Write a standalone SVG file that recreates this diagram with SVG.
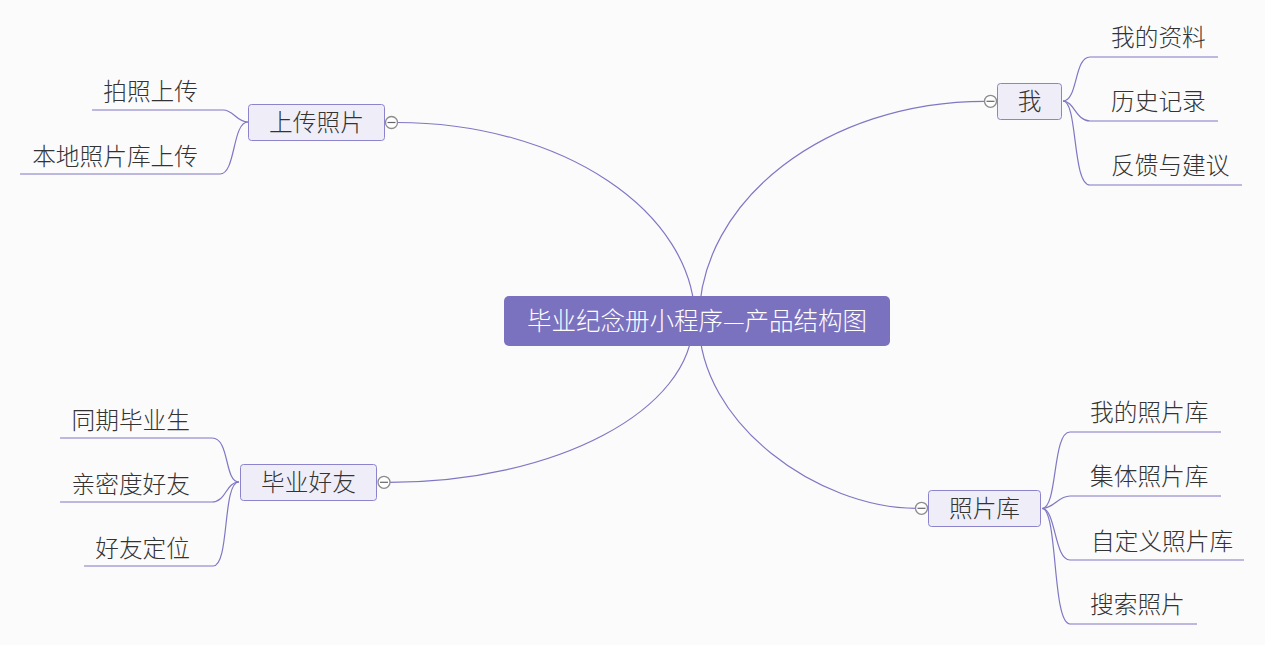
<svg xmlns="http://www.w3.org/2000/svg" width="1265" height="645" viewBox="0 0 1265 645">
<style>
.bg{fill:#fbfbfb}
.c{fill:none;stroke:#7f77c4;stroke-width:1.2}
.n{fill:#efeef8;stroke:#8b84cc;stroke-width:1}
.root{fill:#7b72bf}
.t{font-family:"Noto Sans CJK SC","Noto Sans",sans-serif;font-size:23.7px;font-weight:300;fill:#333333;dominant-baseline:central}
.rt{font-family:"Noto Sans CJK SC","Noto Sans",sans-serif;font-size:24.5px;font-weight:300;fill:#ffffff;dominant-baseline:central;text-anchor:middle}
.m{text-anchor:middle}
.e{text-anchor:end}
.tog{fill:#ffffff;stroke:#8c8c8c;stroke-width:1.3}
.tl{stroke:#666666;stroke-width:1.2}
</style>
<rect class="bg" x="0" y="0" width="1265" height="645"/>
<g id="connectors">
<path class="c" d="M695,321 C695,211 561,122.5 397,122.5"/>
<path class="c" d="M699,321 C699,200 827,101.3 985,101.3"/>
<path class="c" d="M693,321 C693,410 556,482.3 389.5,482.3"/>
<path class="c" d="M699,321 C699,424 819,508.3 916,508.3"/>
<path class="c" d="M248,122 C236,122 234,110 223,110 H92"/>
<path class="c" d="M248,122 C232,122 236,174 220,174 H20"/>
<path class="c" d="M1063,101 C1078,101 1074,57 1090,57 H1218"/>
<path class="c" d="M1063,101 C1074,101 1076,121 1090,121 H1218"/>
<path class="c" d="M1063,101 C1078,101 1072,185 1090,185 H1242"/>
<path class="c" d="M1042,508.5 C1058,508.5 1052,432 1070,432 H1221"/>
<path class="c" d="M1042,508.5 C1054,508.5 1058,496 1070,496 H1221"/>
<path class="c" d="M1042,508.5 C1056,508.5 1054,560 1070,560 H1244"/>
<path class="c" d="M1042,508.5 C1058,508.5 1052,624 1070,624 H1197"/>
<path class="c" d="M239,482 C224,482 230,438 212,438 H60"/>
<path class="c" d="M239,482 C226,482 226,502 212,502 H60"/>
<path class="c" d="M239,482 C222,482 230,566 213,566 H84"/>
</g>
<g id="root">
<rect class="root" x="504" y="296" width="386" height="50" rx="5"/>
<text class="rt" x="697" y="319">毕业纪念册小程序—产品结构图</text>
</g>
<g id="upload">
<rect class="n" x="248.5" y="104.5" width="136" height="36" rx="3"/>
<text class="t m" x="316.5" y="121">上传照片</text>
<circle class="tog" cx="391.5" cy="122.5" r="6"/>
<line class="tl" x1="387.5" y1="122.5" x2="395.5" y2="122.5"/>
</g>
<g id="upload-c1"><text class="t e" x="198" y="90">拍照上传</text></g>
<g id="upload-c2"><text class="t e" x="198" y="155">本地照片库上传</text></g>
<g id="me">
<rect class="n" x="997.5" y="83.5" width="64" height="36" rx="3"/>
<text class="t m" x="1029.5" y="100">我</text>
<circle class="tog" cx="990.5" cy="101.3" r="6"/>
<line class="tl" x1="986.5" y1="101.3" x2="994.5" y2="101.3"/>
</g>
<g id="me-c1"><text class="t" x="1111" y="36">我的资料</text></g>
<g id="me-c2"><text class="t" x="1111" y="100">历史记录</text></g>
<g id="me-c3"><text class="t" x="1111" y="164">反馈与建议</text></g>
<g id="friends">
<rect class="n" x="240.5" y="464.5" width="136" height="36" rx="3"/>
<text class="t m" x="308.5" y="481">毕业好友</text>
<circle class="tog" cx="384" cy="482.3" r="6"/>
<line class="tl" x1="380" y1="482.3" x2="388" y2="482.3"/>
</g>
<g id="friends-c1"><text class="t e" x="190" y="419">同期毕业生</text></g>
<g id="friends-c2"><text class="t e" x="190" y="483">亲密度好友</text></g>
<g id="friends-c3"><text class="t e" x="190" y="547">好友定位</text></g>
<g id="gallery">
<rect class="n" x="928.5" y="490.5" width="112" height="36" rx="3"/>
<text class="t m" x="984.5" y="507">照片库</text>
<circle class="tog" cx="921.5" cy="508.3" r="6"/>
<line class="tl" x1="917.5" y1="508.3" x2="925.5" y2="508.3"/>
</g>
<g id="gallery-c1"><text class="t" x="1090" y="411">我的照片库</text></g>
<g id="gallery-c2"><text class="t" x="1090" y="475">集体照片库</text></g>
<g id="gallery-c3"><text class="t" x="1091" y="539.5">自定义照片库</text></g>
<g id="gallery-c4"><text class="t" x="1090" y="603">搜索照片</text></g>
</svg>
